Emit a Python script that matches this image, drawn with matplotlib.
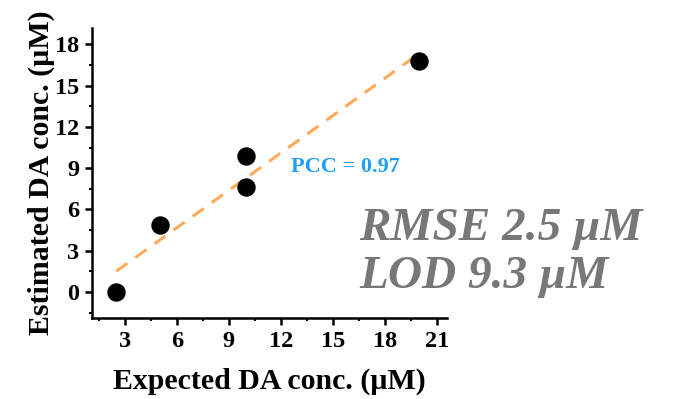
import matplotlib

matplotlib.use("Agg")
import matplotlib.pyplot as plt
import numpy as np
from matplotlib.ticker import MultipleLocator

# measured points (expected vs estimated, uM)
expected = [2.5, 5, 10, 10, 20]
estimated = [0.0, 4.9, 9.9, 7.6, 16.8]
x_ticks = [3, 6, 9, 12, 15, 18, 21]
y_ticks = [0, 3, 6, 9, 12, 15, 18]

plt.rcParams["font.family"] = ["Liberation Serif", "DejaVu Serif"]
plt.rcParams["font.weight"] = "bold"

fig = plt.figure(figsize=(6.74, 3.99), dpi=100)
ax = fig.add_axes([0.1365, 0.203, 0.527, 0.727])

# least-squares fit line
slope, intercept = np.polyfit(expected, estimated, 1)
fit_x = np.array([min(expected), max(expected)])
ax.plot(fit_x, slope * fit_x + intercept, color="#ff9a3c", alpha=0.85,
        lw=2.2, dashes=(4.5, 3.2), zorder=2)

ax.scatter(expected, estimated, s=150, color="black", zorder=3)

ax.set_xlim(1.1, 21.6)
ax.set_ylim(-1.9, 19.2)
ax.set_xticks(x_ticks)
ax.set_yticks(y_ticks)
ax.xaxis.set_minor_locator(MultipleLocator(1.5))
ax.yaxis.set_minor_locator(MultipleLocator(1.5))
for side in ["top", "right"]:
    ax.spines[side].set_visible(False)
for side in ["left", "bottom"]:
    ax.spines[side].set_linewidth(1.8)
ax.tick_params(which="major", length=5, width=1.8, labelsize=17.5, pad=4)
ax.tick_params(which="minor", length=2.5, width=1.5)
for lab in ax.get_xticklabels() + ax.get_yticklabels():
    lab.set_fontweight("bold")

ax.set_xlabel("Expected DA conc. (µM)", fontsize=21.5, fontweight="bold", labelpad=12)
ax.set_ylabel("Estimated DA conc. (µM)", fontsize=21.5, fontweight="bold", labelpad=0)

ax.text(12.6, 9.1, "PCC = 0.97", color="#1e9ff5", fontsize=16, fontweight="bold",
        ha="left", va="center")

fig.text(0.533, 0.398, "RMSE 2.5 µM", color="#777777", fontsize=34,
         fontweight="bold", fontstyle="italic", ha="left", va="baseline")
fig.text(0.533, 0.278, "LOD 9.3 µM", color="#777777", fontsize=34,
         fontweight="bold", fontstyle="italic", ha="left", va="baseline")

fig.savefig("out.png", dpi=100)
